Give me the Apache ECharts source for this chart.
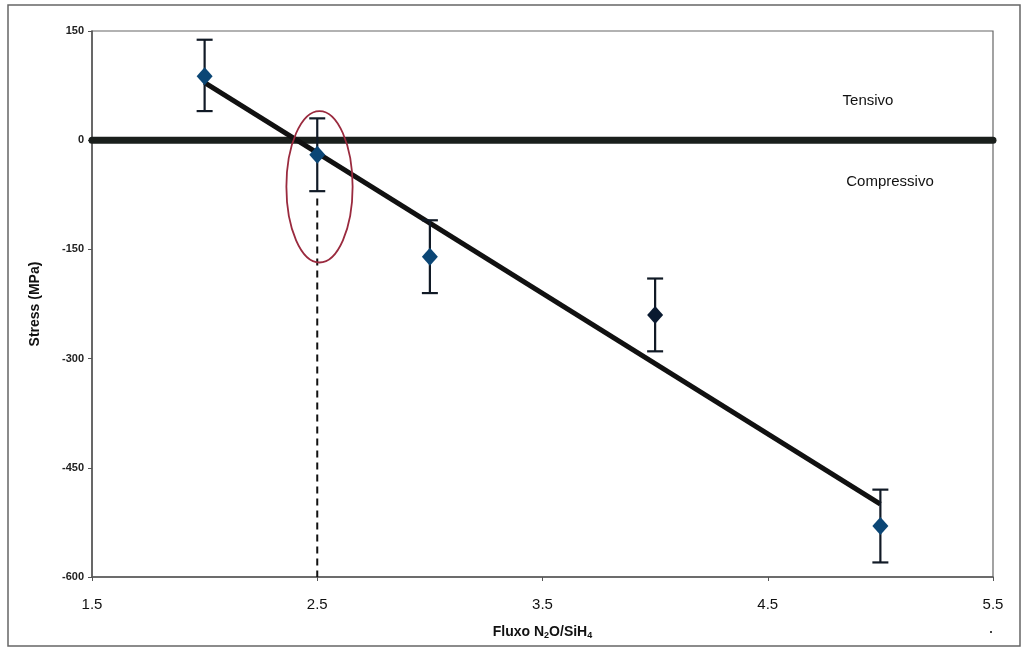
<!DOCTYPE html>
<html><head><meta charset="utf-8">
<script src="https://cdn.jsdelivr.net/npm/echarts@6/dist/echarts.min.js"></script>
<style>html,body{margin:0;padding:0;background:#fff}#c{width:1026px;height:650px}</style>
</head><body><div id="c"></div>
<script>
var fluxo = [2, 2.5, 3, 4, 5];
var stress = [88, -20, -160, -240, -530];
var errLow = [40, -70, -210, -290, -580];
var errHigh = [138, 30, -110, -190, -480];
var trendX = [2, 5];
var trendY = [79, -500];
var zeroX = [1.5, 5.5];
var guideX = [2.5, 2.5];
var guideY = [-80, -600];
var ellipseCenter = [2.51, -64];
var ellipseRadii = [0.147, 104];
var xTicks = [1.5, 2.5, 3.5, 4.5, 5.5];
var yTicks = [150, 0, -150, -300, -450, -600];

var chart = echarts.init(document.getElementById('c'));
var F = '"Liberation Sans", Arial, sans-serif';
var markColors = ['#0b4675', '#0b4675', '#0b4675', '#0a1a30', '#0b4675'];

chart.setOption({
  animation: false,
  backgroundColor: '#fff',
  grid: {left: 92, right: 33, top: 31, bottom: 73, show: true, borderColor: '#666', borderWidth: 1.2, backgroundColor: 'transparent'},
  xAxis: {
    type: 'value', min: 1.5, max: 5.5,
    axisLine: {show: true, onZero: false, lineStyle: {color: '#555', width: 1.5}},
    axisTick: {show: true, length: 4, customValues: xTicks, lineStyle: {color: '#555'}},
    axisLabel: {customValues: xTicks, fontFamily: F, fontSize: 15, color: '#111', margin: 20, formatter: function(v){return v.toFixed(1);}},
    splitLine: {show: false},
    name: '{a|Fluxo N}{s|2}{a|O/SiH}{s|4}', nameLocation: 'middle', nameGap: 48,
    nameTextStyle: {rich: {a: {fontFamily: F, fontSize: 14, fontWeight: 'bold', color: '#111'}, s: {fontFamily: F, fontSize: 9, fontWeight: 'bold', color: '#111', verticalAlign: 'bottom', padding: [6,0,0,0]}}}
  },
  yAxis: {
    type: 'value', min: -600, max: 150, interval: 150,
    axisLine: {show: true, onZero: false, lineStyle: {color: '#555', width: 1.5}},
    axisTick: {show: true, length: 4, lineStyle: {color: '#555'}},
    axisLabel: {fontFamily: F, fontSize: 11, fontWeight: 'bold', color: '#222', margin: 8},
    splitLine: {show: false},
    name: 'Stress (MPa)', nameLocation: 'middle', nameGap: 50,
    nameTextStyle: {fontFamily: F, fontSize: 14, fontWeight: 'bold', color: '#111'}
  },
  series: [
    {type: 'line', data: zeroX.map(function(x){return [x, 0];}), symbol: 'none',
     lineStyle: {color: '#1a1f1c', width: 7, cap: 'round'}, z: 2},
    {type: 'line', data: guideX.map(function(x, i){return [x, guideY[i]];}), symbol: 'none',
     lineStyle: {color: '#111', width: 2, type: [7, 5]}, z: 2},
    {type: 'line', data: trendX.map(function(x, i){return [x, trendY[i]];}), symbol: 'none',
     lineStyle: {color: '#111', width: 5}, z: 3},
    {type: 'custom', z: 4,
     data: fluxo.map(function(x, i){return [x, errLow[i], errHigh[i]];}),
     renderItem: function(params, api){
       var x = api.value(0);
       var lo = api.coord([x, api.value(1)]);
       var hi = api.coord([x, api.value(2)]);
       var w = 8;
       var st = {stroke: '#111a26', lineWidth: 2.2, fill: null};
       return {type: 'group', children: [
         {type: 'line', shape: {x1: lo[0], y1: lo[1], x2: hi[0], y2: hi[1]}, style: st},
         {type: 'line', shape: {x1: lo[0]-w, y1: lo[1], x2: lo[0]+w, y2: lo[1]}, style: st},
         {type: 'line', shape: {x1: hi[0]-w, y1: hi[1], x2: hi[0]+w, y2: hi[1]}, style: st}
       ]};
     }},
    {type: 'scatter', z: 5, symbol: 'diamond', symbolSize: [16, 18],
     data: fluxo.map(function(x, i){return {value: [x, stress[i]], itemStyle: {color: markColors[i], opacity: 1}};})},
    {type: 'custom', z: 6, data: [[ellipseCenter[0], ellipseCenter[1], ellipseRadii[0], ellipseRadii[1]]],
     renderItem: function(params, api){
       var c = api.coord([api.value(0), api.value(1)]);
       var s = api.size([api.value(2), api.value(3)]);
       return {type: 'ellipse', shape: {cx: c[0], cy: c[1], rx: s[0], ry: s[1]},
               style: {stroke: '#9a2a3e', lineWidth: 1.8, fill: null}};
     }}
  ],
  graphic: [
    {type: 'rect', shape: {x: 8, y: 5, width: 1012, height: 641}, style: {stroke: '#666', lineWidth: 1.5, fill: null}, silent: true},
    {type: 'text', x: 868, y: 101, style: {text: 'Tensivo', font: '15px ' + F, fill: '#111', align: 'center', verticalAlign: 'middle'}},
    {type: 'text', x: 890, y: 182, style: {text: 'Compressivo', font: '15px ' + F, fill: '#111', align: 'center', verticalAlign: 'middle'}},
    {type: 'rect', shape: {x: 990, y: 631, width: 2, height: 2}, style: {fill: '#444'}}
  ]
});
</script></body></html>
